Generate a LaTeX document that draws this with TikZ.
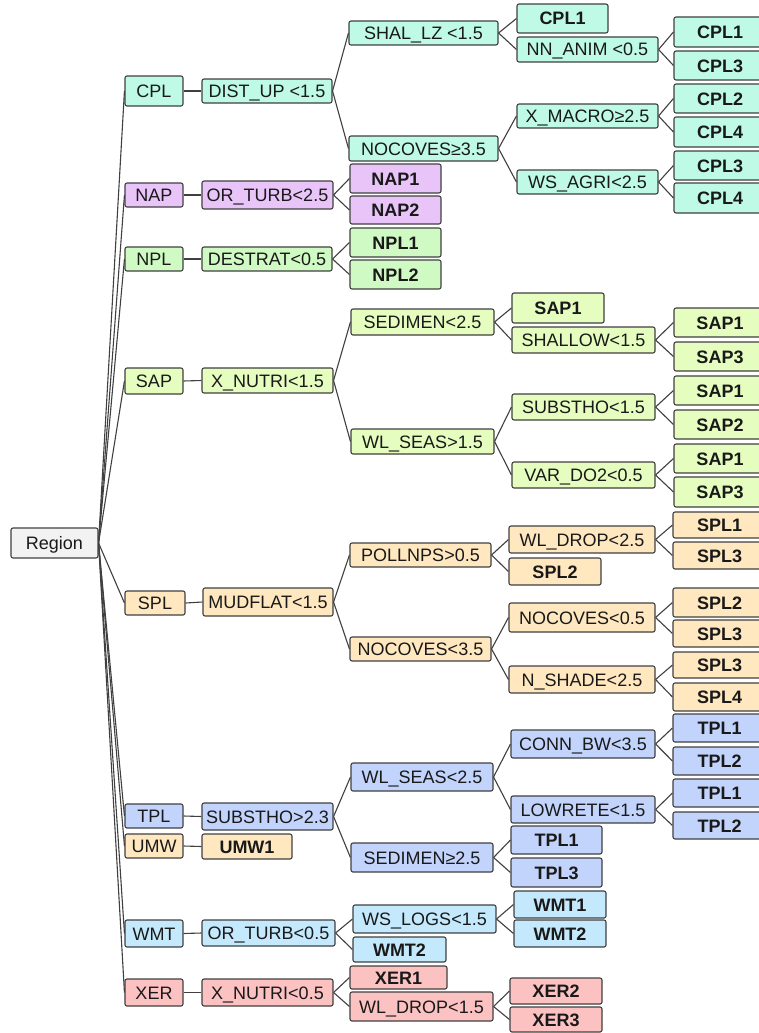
\documentclass[tikz,border=0pt]{standalone}
\usepackage{fontspec}
\setmainfont{Liberation Sans}
\definecolor{linec}{RGB}{64,64,64}
\definecolor{txtc}{RGB}{25,25,25}
\definecolor{regc}{RGB}{242,242,242}
\definecolor{cplc}{RGB}{190,250,230}
\definecolor{napc}{RGB}{232,196,248}
\definecolor{nplc}{RGB}{208,250,196}
\definecolor{sapc}{RGB}{230,253,192}
\definecolor{splc}{RGB}{255,232,192}
\definecolor{tplc}{RGB}{194,211,252}
\definecolor{wmtc}{RGB}{196,233,252}
\definecolor{xerc}{RGB}{252,194,194}
\newcommand{\mybox}[7]{\node[#6, minimum width={(#3-#2)*1pt}, minimum height={(#5-#4)*1pt}] (#1) at ({(#2+#3)/2},{(#4+#5)/2}) {#7};}
\begin{document}
\begin{tikzpicture}[x=1pt,y=-1pt,
  bx/.style={draw=linec, line width=1.1pt, rounded corners=2pt, inner sep=0pt, text height=13pt, text depth=0pt, font=\fontsize{18}{20}\selectfont, text=txtc},
  lf/.style={bx, font=\fontsize{18}{20}\selectfont\bfseries},
  cn/.style={draw=linec, line width=1.1pt},
  reg/.style={bx, fill=regc}, cpl/.style={bx, fill=cplc}, nap/.style={bx, fill=napc},
  npl/.style={bx, fill=nplc}, sap/.style={bx, fill=sapc}, spl/.style={bx, fill=splc},
  tpl/.style={bx, fill=tplc}, wmt/.style={bx, fill=wmtc}, xer/.style={bx, fill=xerc},
  cplL/.style={lf, fill=cplc}, napL/.style={lf, fill=napc}, nplL/.style={lf, fill=nplc},
  sapL/.style={lf, fill=sapc}, splL/.style={lf, fill=splc}, tplL/.style={lf, fill=tplc},
  wmtL/.style={lf, fill=wmtc}, xerL/.style={lf, fill=xerc}
]
\clip (0,0) rectangle (759,1033);
\fill[white] (0,0) rectangle (759,1033);
% level 0
\mybox{region}{11}{98}{528}{558}{reg}{Region}
% level 1
\mybox{cpl}{125}{183}{76}{106}{cpl}{CPL}
\mybox{nap}{125}{183}{183}{207}{nap}{NAP}
\mybox{npl}{125}{183}{247}{271}{npl}{NPL}
\mybox{sap}{125}{183}{368}{394}{sap}{SAP}
\mybox{spl}{125}{185}{591}{615}{spl}{SPL}
\mybox{tpl}{125}{183}{804}{828}{tpl}{TPL}
\mybox{umw}{125}{183}{834}{858}{spl}{UMW}
\mybox{wmt}{125}{183}{920}{947}{wmt}{WMT}
\mybox{xer}{125}{183}{979}{1006}{xer}{XER}
% level 2
\mybox{distup}{202}{332}{79}{103}{cpl}{DIST\_UP <1.5}
\mybox{orturb}{202}{333}{181}{209}{nap}{OR\_TURB<2.5}
\mybox{destrat}{202}{332}{247}{271}{npl}{DESTRAT<0.5}
\mybox{xnutri}{202}{333}{368}{393}{sap}{X\_NUTRI<1.5}
\mybox{mudflat}{203}{333}{588}{616}{spl}{MUDFLAT<1.5}
\mybox{substhoB}{202}{333}{803}{830}{tpl}{SUBSTHO>2.3}
\mybox{umwA}{202}{292}{834}{859}{splL}{UMW1}
\mybox{orturbB}{202}{335}{920}{946}{wmt}{OR\_TURB<0.5}
\mybox{xnutriB}{202}{333}{979}{1006}{xer}{X\_NUTRI<0.5}
% level 3
\mybox{shallz}{349}{498}{21}{45}{cpl}{SHAL\_LZ <1.5}
\mybox{nocovesA}{349}{498}{136}{161}{cpl}{NOCOVES≥3.5}
\mybox{napA}{350}{441}{164}{193}{napL}{NAP1}
\mybox{napB}{350}{441}{196}{224}{napL}{NAP2}
\mybox{nplA}{350}{441}{228}{257}{nplL}{NPL1}
\mybox{nplB}{350}{441}{260}{289}{nplL}{NPL2}
\mybox{sedimen}{351}{494}{309}{335}{sap}{SEDIMEN<2.5}
\mybox{wlseas}{351}{494}{429}{454}{sap}{WL\_SEAS>1.5}
\mybox{pollnps}{350}{491}{543}{567}{spl}{POLLNPS>0.5}
\mybox{nocovesC}{350}{491}{637}{661}{spl}{NOCOVES<3.5}
\mybox{wlseasB}{351}{493}{763}{791}{tpl}{WL\_SEAS<2.5}
\mybox{sedimenB}{351}{493}{843}{872}{tpl}{SEDIMEN≥2.5}
\mybox{wslogs}{353}{496}{905}{933}{wmt}{WS\_LOGS<1.5}
\mybox{wmtB}{353}{446}{937}{962}{wmtL}{WMT2}
\mybox{xerA}{350}{447}{966}{989}{xerL}{XER1}
\mybox{wldropB}{350}{493}{992}{1021}{xer}{WL\_DROP<1.5}
% level 4
\mybox{cplA}{517}{608}{4}{33}{cplL}{CPL1}
\mybox{nnanim}{517}{658}{37}{62}{cpl}{NN\_ANIM <0.5}
\mybox{xmacro}{517}{658}{104}{128}{cpl}{X\_MACRO≥2.5}
\mybox{wsagri}{517}{658}{170}{194}{cpl}{WS\_AGRI<2.5}
\mybox{sapA}{512}{604}{293}{323}{sapL}{SAP1}
\mybox{shallow}{512}{655}{327}{353}{sap}{SHALLOW<1.5}
\mybox{substho}{512}{655}{394}{420}{sap}{SUBSTHO<1.5}
\mybox{vardo}{512}{655}{462}{488}{sap}{VAR\_DO2<0.5}
\mybox{wldrop}{509}{655}{526}{553}{spl}{WL\_DROP<2.5}
\mybox{splA}{509}{601}{558}{585}{splL}{SPL2}
\mybox{nocovesB}{509}{655}{603}{632}{spl}{NOCOVES<0.5}
\mybox{nshade}{509}{655}{666}{693}{spl}{N\_SHADE<2.5}
\mybox{connbw}{511}{655}{730}{758}{tpl}{CONN\_BW<3.5}
\mybox{lowrete}{511}{655}{796}{823}{tpl}{LOWRETE<1.5}
\mybox{tplA}{511}{602}{826}{854}{tplL}{TPL1}
\mybox{tplB}{511}{602}{858}{887}{tplL}{TPL3}
\mybox{wmtA}{514}{606}{891}{918}{wmtL}{WMT1}
\mybox{wmtC}{514}{606}{920}{947}{wmtL}{WMT2}
\mybox{xerB}{510}{602}{978}{1004}{xerL}{XER2}
\mybox{xerC}{510}{602}{1007}{1032}{xerL}{XER3}
% level 5
\mybox{c1}{674}{766}{17}{47}{cplL}{CPL1}
\mybox{c2}{674}{766}{51}{80}{cplL}{CPL3}
\mybox{c3}{674}{766}{84}{113}{cplL}{CPL2}
\mybox{c4}{674}{766}{117}{147}{cplL}{CPL4}
\mybox{c5}{674}{766}{151}{180}{cplL}{CPL3}
\mybox{c6}{674}{766}{183}{213}{cplL}{CPL4}
\mybox{s1}{674}{766}{308}{337}{sapL}{SAP1}
\mybox{s2}{674}{766}{342}{371}{sapL}{SAP3}
\mybox{s3}{674}{766}{376}{405}{sapL}{SAP1}
\mybox{s4}{674}{766}{410}{439}{sapL}{SAP2}
\mybox{s5}{674}{766}{444}{473}{sapL}{SAP1}
\mybox{s6}{674}{766}{477}{507}{sapL}{SAP3}
\mybox{p1}{673}{766}{512}{538}{splL}{SPL1}
\mybox{p2}{673}{766}{542}{569}{splL}{SPL3}
\mybox{p3}{673}{766}{588}{617}{splL}{SPL2}
\mybox{p4}{673}{766}{620}{647}{splL}{SPL3}
\mybox{p5}{673}{766}{652}{678}{splL}{SPL3}
\mybox{p6}{673}{766}{683}{711}{splL}{SPL4}
\mybox{t1}{673}{766}{714}{742}{tplL}{TPL1}
\mybox{t2}{673}{766}{747}{775}{tplL}{TPL2}
\mybox{t3}{673}{766}{779}{807}{tplL}{TPL1}
\mybox{t4}{673}{766}{812}{839}{tplL}{TPL2}
% connectors
\foreach \c in {cpl,nap,npl,sap,spl,tpl,umw,wmt,xer} \draw[cn] (region.east) -- (\c.west);
\foreach \a/\b in {cpl/distup, nap/orturb, npl/destrat, sap/xnutri, spl/mudflat, tpl/substhoB, umw/umwA, wmt/orturbB, xer/xnutriB,
  distup/shallz, distup/nocovesA, shallz/cplA, shallz/nnanim, nnanim/c1, nnanim/c2,
  nocovesA/xmacro, nocovesA/wsagri, xmacro/c3, xmacro/c4, wsagri/c5, wsagri/c6,
  orturb/napA, orturb/napB, destrat/nplA, destrat/nplB,
  xnutri/sedimen, xnutri/wlseas, sedimen/sapA, sedimen/shallow, shallow/s1, shallow/s2,
  wlseas/substho, wlseas/vardo, substho/s3, substho/s4, vardo/s5, vardo/s6,
  mudflat/pollnps, mudflat/nocovesC, pollnps/wldrop, pollnps/splA, wldrop/p1, wldrop/p2,
  nocovesC/nocovesB, nocovesC/nshade, nocovesB/p3, nocovesB/p4, nshade/p5, nshade/p6,
  substhoB/wlseasB, substhoB/sedimenB, wlseasB/connbw, wlseasB/lowrete, connbw/t1, connbw/t2,
  lowrete/t3, lowrete/t4, sedimenB/tplA, sedimenB/tplB,
  orturbB/wslogs, orturbB/wmtB, wslogs/wmtA, wslogs/wmtC,
  xnutriB/xerA, xnutriB/wldropB, wldropB/xerB, wldropB/xerC}
  \draw[cn] (\a.east) -- (\b.west);
\end{tikzpicture}
\end{document}
